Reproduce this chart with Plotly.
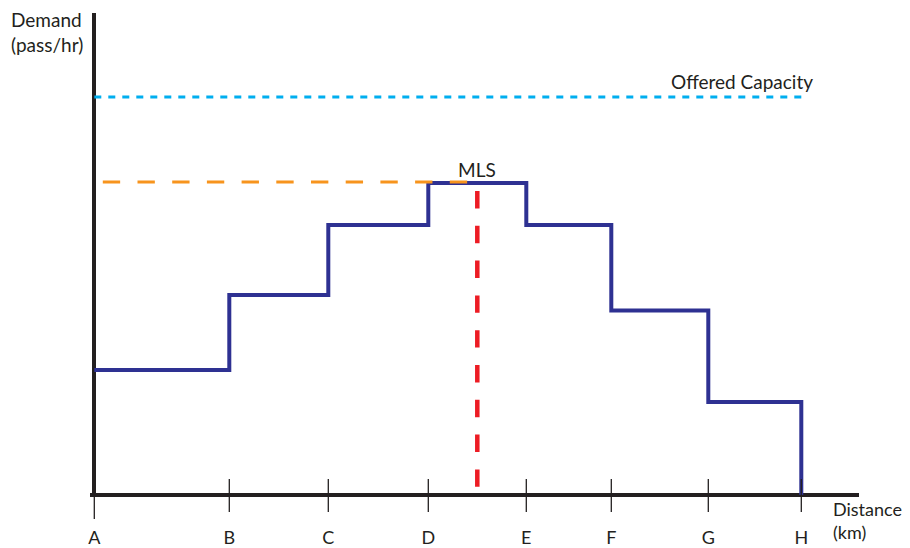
import plotly.graph_objects as go

# ---- data ----
stop_labels = ["A", "B", "C", "D", "E", "F", "G", "H"]
stop_km = [0.0, 1.35, 2.34, 3.34, 4.32, 5.17, 6.14, 7.07]
segment_demand = [1250, 2000, 2700, 3120, 2700, 1845, 930]   # pass/hr between stops
offered_capacity = 3980
mls_km = 3.83
mls_demand = max(segment_demand)

DARK = "#231f20"
FONT = "Lato"
FS = 19

fig = go.Figure()

# offered capacity (cyan dotted)
fig.add_trace(go.Scatter(
    x=[stop_km[0], stop_km[-1] + 0.07], y=[offered_capacity, offered_capacity],
    mode="lines", line=dict(color="#00aeef", width=3, dash="7px,7px"),
    hoverinfo="skip"))

# demand profile (step)
fig.add_trace(go.Scatter(
    x=stop_km, y=segment_demand + [0], mode="lines",
    line=dict(color="#2e3192", width=4, shape="hv"), hoverinfo="skip"))

# MLS horizontal (orange dashed)
fig.add_trace(go.Scatter(
    x=[stop_km[0] + 0.085, mls_km - 0.09], y=[mls_demand + 10, mls_demand + 10],
    mode="lines", line=dict(color="#f7941d", width=3, dash="17.35px,17.35px"),
    hoverinfo="skip"))

# MLS vertical (red dashed)
fig.add_trace(go.Scatter(
    x=[mls_km, mls_km], y=[mls_demand - 80, 80],
    mode="lines", line=dict(color="#ed1c24", width=4.5, dash="17.4px,17.4px"),
    hoverinfo="skip"))

# tick marks crossing the axis
shapes = []
for i, s in enumerate(stop_km):
    if i == 0:
        y0, y1 = 0.004, -0.0455
    else:
        y0, y1 = 0.0372, -0.031
    shapes.append(dict(type="line", xref="x", yref="paper", x0=s, x1=s, y0=y0, y1=y1,
                       line=dict(color=DARK, width=1.3)))

annotations = [
    dict(text="Demand<br>(pass/hr)", xref="paper", yref="paper", x=-0.0065, y=1.014,
         xanchor="right", yanchor="top", align="left", showarrow=False,
         font=dict(family=FONT, size=FS, color=DARK)),
    dict(text="Distance<br>(km)", xref="paper", yref="paper", x=0.963, y=0.002,
         xanchor="left", yanchor="top", align="left", showarrow=False,
         font=dict(family=FONT, size=18, color=DARK)),
    dict(text="Offered Capacity", xref="x", yref="y", x=stop_km[-1] + 0.07,
         y=offered_capacity, xanchor="right", yanchor="bottom", xshift=7, yshift=2,
         showarrow=False, font=dict(family=FONT, size=FS, color=DARK)),
    dict(text="MLS", xref="x", yref="y", x=mls_km, y=mls_demand,
         xanchor="center", yanchor="bottom", yshift=0,
         showarrow=False, font=dict(family=FONT, size=FS, color=DARK)),
]

# the page places the plot 8px from the top-left corner, so the figure is 8px smaller
fig.update_layout(
    width=902, height=540,
    margin=dict(l=82, r=51, t=5, b=51, autoexpand=False),
    plot_bgcolor="white", paper_bgcolor="white",
    showlegend=False,
    shapes=shapes, annotations=annotations,
    xaxis=dict(range=[-0.043, 7.647], showgrid=False, zeroline=True,
               zerolinecolor=DARK, zerolinewidth=4, showline=False,
               tickvals=stop_km, ticktext=stop_labels, ticks="",
               ticklabelstandoff=28, automargin=False,
               tickfont=dict(family=FONT, size=18, color=DARK)),
    yaxis=dict(range=[-20, 4820], showgrid=False, zeroline=True,
               zerolinecolor=DARK, zerolinewidth=4, showline=False,
               showticklabels=False, ticks="", automargin=False),
)

fig.write_html("out.html")
